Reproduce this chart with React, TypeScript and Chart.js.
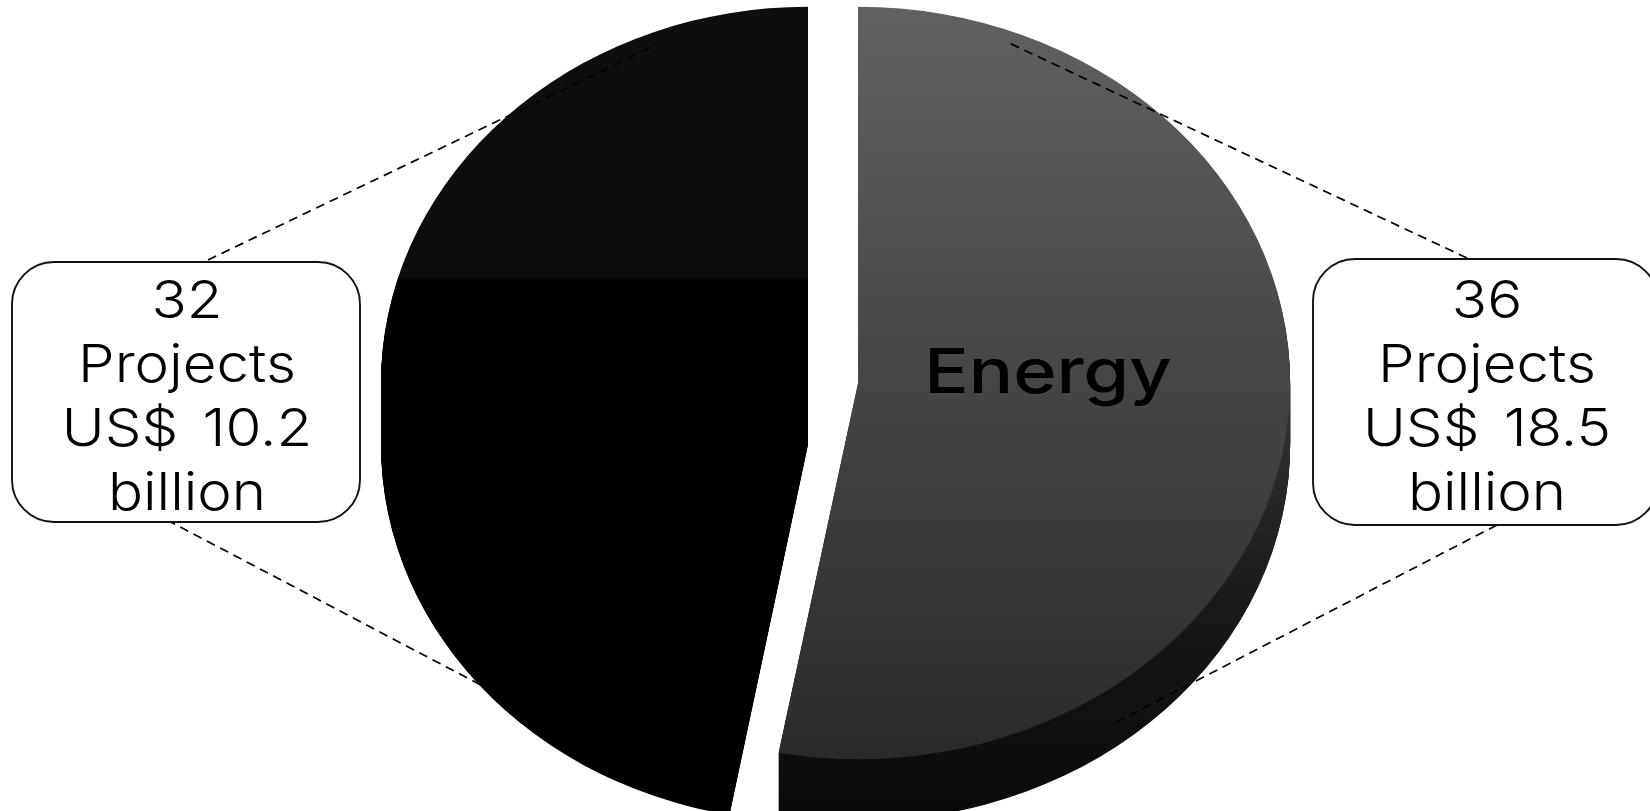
import React, { useEffect, useRef } from "react";
import { Chart, registerables } from "chart.js";

Chart.register(...registerables);

const categories = ["Energy", ""];
const projectCounts = [36, 32];
const billions = ["18.5", "10.2"];

const W = 1650;
const H = 811;
const FONT = 'Inter, "Noto Sans", sans-serif';
const SQUASH = 0.875;
const DEPTH = 62;
const EXPLODE = 25;
const RADIUS_STRETCH = [1.005, 0.993];

const calloutBoxes = [
  { x: 1313, y: 259, w: 345, h: 266, cx: 1487, index: 0, leaders: [[1467, 258, 1007, 42], [1497, 525, 1111, 725]] },
  { x: 12, y: 262, w: 348, h: 260, cx: 187, index: 1, leaders: [[208, 260, 658, 44], [167, 520, 494, 692]] },
];

function sliceFill(ctx: CanvasRenderingContext2D, cy: number, d: number, index: number, side: boolean) {
  const local = (Y: number) => (Y - cy - d) / SQUASH + cy;
  if (index === 0) {
    const g = side
      ? ctx.createLinearGradient(0, local(383), 0, local(811))
      : ctx.createLinearGradient(0, local(6), 0, local(757));
    if (side) {
      g.addColorStop(0, "#343434");
      g.addColorStop(0.6, "#161616");
      g.addColorStop(1, "#0a0a0a");
    } else {
      g.addColorStop(0, "#616161");
      g.addColorStop(1, "#2a2a2a");
    }
    return g;
  }
  if (side) return "#000000";
  const g = ctx.createLinearGradient(0, local(0), 0, local(811));
  const split = 277 / 811;
  g.addColorStop(0, "#0e0e0e");
  g.addColorStop(split, "#0c0c0c");
  g.addColorStop(split + 0.004, "#000000");
  g.addColorStop(1, "#000000");
  return g;
}

function stretchedText(ctx: CanvasRenderingContext2D, t: string, x: number, y: number, sx: number) {
  ctx.save();
  ctx.translate(x, y);
  ctx.scale(sx, 1);
  ctx.fillText(t, 0, 0);
  ctx.restore();
}

const extrudedPie = {
  id: "extrudedPie",
  beforeDatasetDraw(chart: any) {
    const ctx: CanvasRenderingContext2D = chart.ctx;
    const arcs = chart.getDatasetMeta(0).data;
    const drawLayer = (arc: any, i: number, d: number, side: boolean) => {
      const cy = arc.y;
      const mid = (arc.startAngle + arc.endAngle) / 2;
      const saved = arc.options;
      arc.options = Object.assign(Object.create(saved), {
        backgroundColor: sliceFill(ctx, cy, d, i, side),
        borderWidth: 0,
      });
      ctx.save();
      ctx.translate(arc.x + Math.sign(Math.cos(mid)) * EXPLODE, cy + d);
      ctx.scale(RADIUS_STRETCH[i], SQUASH);
      ctx.translate(-arc.x, -cy);
      arc.draw(ctx);
      ctx.restore();
      arc.options = saved;
    };
    arcs.forEach((arc: any, i: number) => {
      for (let d = DEPTH; d >= 1; d--) drawLayer(arc, i, d, true);
      drawLayer(arc, i, 0, false);
    });
    return false;
  },
  afterDatasetsDraw(chart: any) {
    const ctx: CanvasRenderingContext2D = chart.ctx as any;
    ctx.save();
    ctx.strokeStyle = "#000";
    ctx.lineWidth = 1.7;
    ctx.setLineDash([9, 6]);
    calloutBoxes.forEach((b) => {
      b.leaders.forEach(([x1, y1, x2, y2]) => {
        ctx.beginPath();
        ctx.moveTo(x1, y1);
        ctx.lineTo(x2, y2);
        ctx.stroke();
      });
    });
    ctx.setLineDash([]);
    calloutBoxes.forEach((b) => {
      ctx.beginPath();
      ctx.roundRect(b.x, b.y, b.w, b.h, 42);
      ctx.fillStyle = "#fff";
      ctx.fill();
      ctx.strokeStyle = "#111";
      ctx.lineWidth = 1.9;
      ctx.stroke();
      const lines = [String(projectCounts[b.index]), "Projects", `US$ ${billions[b.index]}`, "billion"];
      ctx.fillStyle = "#000";
      ctx.textAlign = "center";
      ctx.textBaseline = "alphabetic";
      ctx.font = `300 52px ${FONT}`;
      (ctx as any).wordSpacing = "7px";
      lines.forEach((t, k) => stretchedText(ctx, t, b.cx, 318 + k * 64, 1.12));
      (ctx as any).wordSpacing = "0px";
    });
    ctx.font = `500 62px ${FONT}`;
    ctx.fillStyle = "#000";
    ctx.textAlign = "center";
    stretchedText(ctx, categories[0], 1048, 393, 1.19);
    ctx.restore();
  },
};

export default function App() {
  const ref = useRef<HTMLCanvasElement>(null);
  useEffect(() => {
    const chart = new Chart(ref.current!, {
      type: "pie",
      data: {
        labels: categories,
        datasets: [{ data: projectCounts, backgroundColor: ["#444444", "#000000"], borderWidth: 0, radius: 430 } as any],
      },
      options: {
        animation: false,
        responsive: false,
        devicePixelRatio: 1,
        layout: { padding: { left: 16, bottom: 45 } },
        plugins: { legend: { display: false }, tooltip: { enabled: false } },
      } as any,
      plugins: [extrudedPie],
    });
    return () => chart.destroy();
  }, []);
  return (
    <canvas
      ref={ref}
      width={W}
      height={H}
      style={{ position: "fixed", left: 0, top: 0, width: W, height: H, display: "block", background: "#fff" }}
    />
  );
}
